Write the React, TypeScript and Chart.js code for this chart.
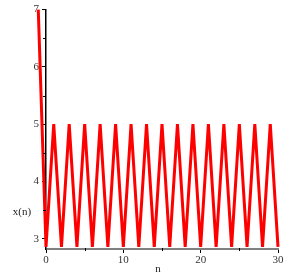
import React, { useEffect, useRef } from "react";
import { Chart, registerables } from "chart.js";

Chart.register(...registerables);

const nValues = [-1, 0, 1, 2, 3, 4, 5, 6, 7, 8, 9, 10, 11, 12, 13, 14, 15, 16, 17, 18, 19, 20, 21, 22, 23, 24, 25, 26, 27, 28, 29, 30];
const xnValues = [7, 2.857, 5, 2.857, 5, 2.857, 5, 2.857, 5, 2.857, 5, 2.857, 5, 2.857, 5, 2.857, 5, 2.857, 5, 2.857, 5, 2.857, 5, 2.857, 5, 2.857, 5, 2.857, 5, 2.857, 5, 2.857];
const xTicks = [0, 10, 20, 30];
const xMinorTicks = [5, 15, 25];
const yTicks = [3, 4, 5, 6, 7];
const yMinorTicks = [3.5, 4.5, 5.5, 6.5];
const xTitle = "n";
const yTitle = "x(n)";

const FONT = "'Liberation Serif', 'DejaVu Serif', serif";

const extrasPlugin = {
  id: "extras",
  afterDraw(chart: any) {
    const ctx = chart.ctx;
    const xs = chart.scales.x;
    const ys = chart.scales.y;
    const area = chart.chartArea;
    ctx.save();
    // minor ticks
    ctx.strokeStyle = "#000";
    ctx.lineWidth = 1;
    ctx.beginPath();
    yMinorTicks.forEach((v) => {
      const py = Math.round(ys.getPixelForValue(v)) + 0.5;
      ctx.moveTo(area.left - 3, py);
      ctx.lineTo(area.left, py);
    });
    xMinorTicks.forEach((v) => {
      const px = Math.round(xs.getPixelForValue(v)) + 0.5;
      ctx.moveTo(px, area.bottom - 1);
      ctx.lineTo(px, area.bottom + 2);
    });
    ctx.stroke();
    // titles
    ctx.fillStyle = "#222";
    ctx.font = "11px " + FONT;
    ctx.textAlign = "center";
    ctx.textBaseline = "middle";
    ctx.fillText(yTitle, 22, 212);
    ctx.fillText(xTitle, 158, 269);
    ctx.restore();
  },
};

export default function App() {
  const ref = useRef<HTMLCanvasElement | null>(null);
  useEffect(() => {
    if (!ref.current) return;
    const chart = new Chart(ref.current, {
      type: "line",
      data: {
        datasets: [
          {
            data: nValues.map((n, i) => ({ x: n, y: xnValues[i] })),
            borderColor: "#ff0000",
            borderWidth: 3,
            pointRadius: 0,
            tension: 0,
            clip: false as any,
          },
        ],
      },
      options: {
        animation: false,
        responsive: false,
        maintainAspectRatio: false,
        layout: { padding: { top: 9, right: 24, left: 0, bottom: 0 } },
        plugins: { legend: { display: false }, tooltip: { enabled: false } },
        scales: {
          x: {
            type: "linear",
            min: 0,
            max: 30,
            afterBuildTicks: (s: any) => {
              s.ticks = xTicks.map((v) => ({ value: v }));
            },
            afterFit: (s: any) => {
              s.height = 30;
            },
            ticks: {
              color: "#333",
              font: { family: FONT, size: 11 },
              padding: 1,
              maxRotation: 0,
            },
            grid: {
              display: true,
              drawOnChartArea: false,
              drawTicks: true,
              tickLength: 4,
              color: "#000",
            },
            border: { display: true, color: "#808080", width: 2 },
          },
          y: {
            type: "linear",
            min: 2.82,
            max: 7,
            afterBuildTicks: (s: any) => {
              s.ticks = yTicks.map((v) => ({ value: v }));
            },
            afterFit: (s: any) => {
              s.width = 46;
            },
            ticks: {
              color: "#333",
              font: { family: FONT, size: 11 },
              padding: 3,
            },
            grid: {
              display: true,
              drawOnChartArea: false,
              drawTicks: true,
              tickLength: 4,
              color: "#000",
            },
            border: { display: true, color: "#000", width: 1.5 },
          },
        },
      },
      plugins: [extrasPlugin],
    });
    return () => chart.destroy();
  }, []);
  return (
    <div style={{ position: "absolute", left: 0, top: 0, width: 302, height: 279 }}>
      <canvas ref={ref} width={302} height={279} style={{ width: 302, height: 279 }} />
    </div>
  );
}
